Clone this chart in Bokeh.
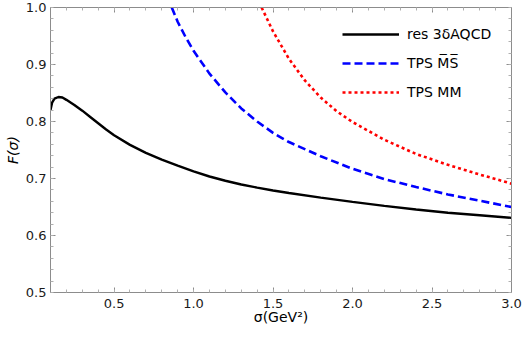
from bokeh.plotting import figure
from bokeh.models import (Range1d, LinearAxis, FixedTicker, Legend, LegendItem,
                          CustomJSTickFormatter, PrintfTickFormatter)
from bokeh.embed import file_html
from bokeh.resources import INLINE

# ---------------- data ----------------
sigma_res = [0.1, 0.11, 0.125, 0.15, 0.175, 0.2, 0.25, 0.3, 0.35, 0.4, 0.45,
             0.5, 0.6, 0.7, 0.8, 0.9, 1.0, 1.1, 1.2, 1.3, 1.4, 1.5, 1.6, 1.8,
             2.0, 2.2, 2.4, 2.6, 2.8, 3.0]
F_res = [0.820, 0.833, 0.840, 0.843, 0.842, 0.838, 0.829, 0.819, 0.808, 0.797,
         0.786, 0.776, 0.759, 0.745, 0.733, 0.7225, 0.7125, 0.7035, 0.696,
         0.6895, 0.684, 0.679, 0.6745, 0.6665, 0.659, 0.652, 0.6455, 0.640,
         0.6355, 0.631]

sigma_ms = [0.863, 0.9, 0.95, 1.0, 1.1, 1.2, 1.3, 1.4, 1.5, 1.6, 1.8, 2.0, 2.2,
            2.4, 2.6, 2.8, 3.0]
F_ms = [1.0, 0.975, 0.948, 0.924, 0.884, 0.851, 0.823, 0.800, 0.780, 0.764,
        0.739, 0.717, 0.699, 0.685, 0.672, 0.661, 0.650]

sigma_mm = [1.428, 1.5, 1.6, 1.7, 1.8, 1.9, 2.0, 2.2, 2.4, 2.6, 2.8, 3.0]
F_mm = [1.0, 0.958, 0.910, 0.872, 0.842, 0.818, 0.799, 0.768, 0.743, 0.724,
        0.707, 0.691]

labels = ["res 3δAQCD", "TPS M\u0305S\u0305", "TPS MM"]
x_title = "σ(GeV²)"
y_title = "F(σ)"

x_major = [0.5, 1.0, 1.5, 2.0, 2.5, 3.0]
x_minor = [round(0.1 * i, 1) for i in range(1, 31)]
y_major = [0.5, 0.6, 0.7, 0.8, 0.9, 1.0]
y_minor = [round(0.5 + 0.02 * i, 2) for i in range(0, 26)]

# ---------------- figure ----------------
p = figure(width=523, height=342, output_backend="svg", toolbar_location=None,
           x_range=Range1d(0.1, 3.0), y_range=Range1d(0.5, 1.0),
           x_axis_type=None, y_axis_type=None,
           min_border_left=50, min_border_right=12, min_border_top=7,
           min_border_bottom=50)
p.outline_line_color = None
p.xgrid.visible = False
p.ygrid.visible = False
p.background_fill_color = "white"
p.border_fill_color = "white"

FONT = "DejaVu Sans"
AX = "#8c8c8c"
MINOR = "#b0b0b0"


def style_axis(ax, show_labels):
    ax.axis_line_color = AX
    ax.axis_line_width = 1
    ax.major_tick_line_color = AX
    ax.minor_tick_line_color = MINOR
    ax.major_tick_in = 5
    ax.major_tick_out = 0
    ax.minor_tick_in = 3
    ax.minor_tick_out = 0
    ax.major_label_text_font = FONT
    ax.axis_label_text_font = FONT
    if show_labels:
        ax.formatter = PrintfTickFormatter(format="%.1f")
        ax.major_label_text_font_size = "13px"
        ax.major_label_text_color = "#1a1a1a"
        ax.axis_label_text_font_size = "14px"
        ax.axis_label_text_color = "#000000"
    else:
        ax.formatter = CustomJSTickFormatter(code="return ''")
        ax.major_label_text_font_size = "1px"
        ax.major_label_standoff = 0


xt = FixedTicker(ticks=x_major, minor_ticks=x_minor)
yt = FixedTicker(ticks=y_major, minor_ticks=y_minor)

xb = LinearAxis(ticker=xt, axis_label=x_title)
style_axis(xb, True)
xb.major_label_standoff = 6
xb.axis_label_standoff = -2
xb.axis_label_text_font_style = "normal"
p.add_layout(xb, "below")

yl = LinearAxis(ticker=yt, axis_label=y_title)
style_axis(yl, True)
yl.major_label_standoff = 4
yl.axis_label_standoff = 2
yl.axis_label_text_font_style = "italic"
p.add_layout(yl, "left")

xtp = LinearAxis(ticker=FixedTicker(ticks=x_major, minor_ticks=x_minor))
style_axis(xtp, False)
p.add_layout(xtp, "above")

yr = LinearAxis(ticker=FixedTicker(ticks=y_major, minor_ticks=y_minor))
style_axis(yr, False)
p.add_layout(yr, "right")

# ---------------- curves ----------------
r_res = p.line(sigma_res, F_res, line_color="black", line_width=2.4)
r_ms = p.line(sigma_ms, F_ms, line_color="#0000ff", line_width=2.6,
              line_dash="8 4")
r_mm = p.line(sigma_mm, F_mm, line_color="#ff0000", line_width=2.6,
              line_dash="3 3")

legend = Legend(items=[LegendItem(label=labels[0], renderers=[r_res]),
                       LegendItem(label=labels[1], renderers=[r_ms]),
                       LegendItem(label=labels[2], renderers=[r_mm])],
                location=(287, 185), orientation="vertical",
                glyph_width=57, glyph_height=20, label_height=20,
                label_standoff=8, spacing=9, padding=5, margin=0,
                label_text_font=FONT, label_text_font_size="14px",
                label_text_color="black",
                background_fill_alpha=0, border_line_alpha=0)
p.add_layout(legend, "center")

open("out.html", "w").write(file_html(p, INLINE))
